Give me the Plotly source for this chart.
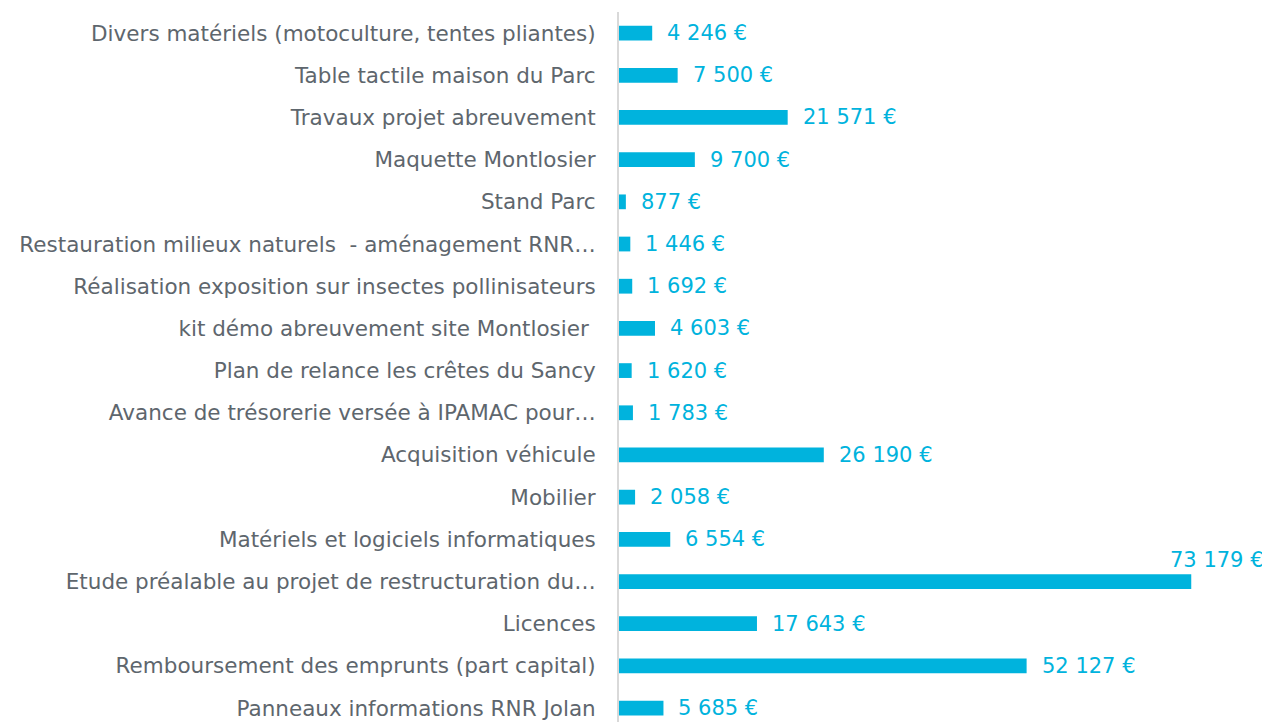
import plotly.graph_objects as go

categories = [
    "Divers matériels (motoculture, tentes pliantes)",
    "Table tactile maison du Parc",
    "Travaux projet abreuvement",
    "Maquette Montlosier",
    "Stand Parc",
    "Restauration milieux naturels  - aménagement RNR…",
    "Réalisation exposition sur insectes pollinisateurs",
    "kit démo abreuvement site Montlosier ",
    "Plan de relance les crêtes du Sancy",
    "Avance de trésorerie versée à IPAMAC pour…",
    "Acquisition véhicule",
    "Mobilier",
    "Matériels et logiciels informatiques",
    "Etude préalable au projet de restructuration du…",
    "Licences",
    "Remboursement des emprunts (part capital)",
    "Panneaux informations RNR Jolan",
]
values = [4246, 7500, 21571, 9700, 877, 1446, 1692, 4603, 1620, 1783,
          26190, 2058, 6554, 73179, 17643, 52127, 5685]

def fmt(v):
    return f"{v:,}".replace(",", " ") + " €"

labels = [fmt(v) for v in values]

BAR = "#00B3DD"
TXT = "#5E666D"
FONT = "DejaVu Sans"
FS_CAT = 21.5
FS_VAL = 21

fig = go.Figure(go.Bar(
    y=categories, x=values, orientation="h",
    marker=dict(color=BAR, line=dict(width=0)),
    width=0.35,
))

vmax = max(values)
for c, v, t in zip(categories, values, labels):
    if v == vmax:
        fig.add_annotation(x=1.0, xref="paper", y=c, yref="y", text=t,
                           xanchor="right", yanchor="middle", yshift=22, xshift=-4,
                           showarrow=False, font=dict(color=BAR, size=FS_VAL, family=FONT))
    else:
        fig.add_annotation(x=v, xref="x", y=c, yref="y", text=t,
                           xanchor="left", yanchor="middle", xshift=13,
                           showarrow=False, font=dict(color=BAR, size=FS_VAL, family=FONT))

fig.update_layout(
    width=1262, height=714,
    margin=dict(l=611, r=0, t=4, b=0, autoexpand=False),
    paper_bgcolor="white", plot_bgcolor="white",
    showlegend=False,
    font=dict(family=FONT, color=TXT, size=FS_CAT),
    xaxis=dict(range=[0, 83250], visible=False, showgrid=False, zeroline=False,
               automargin=False),
    yaxis=dict(
        type="category", categoryorder="array", categoryarray=categories,
        range=[16.33, -0.5], automargin=False,
        showline=True, linecolor="#D9D9D9", linewidth=2,
        ticks="", showgrid=False, zeroline=False,
        ticklabelstandoff=17,
        tickfont=dict(family=FONT, color=TXT, size=FS_CAT),
    ),
)

fig.write_html("out.html")
